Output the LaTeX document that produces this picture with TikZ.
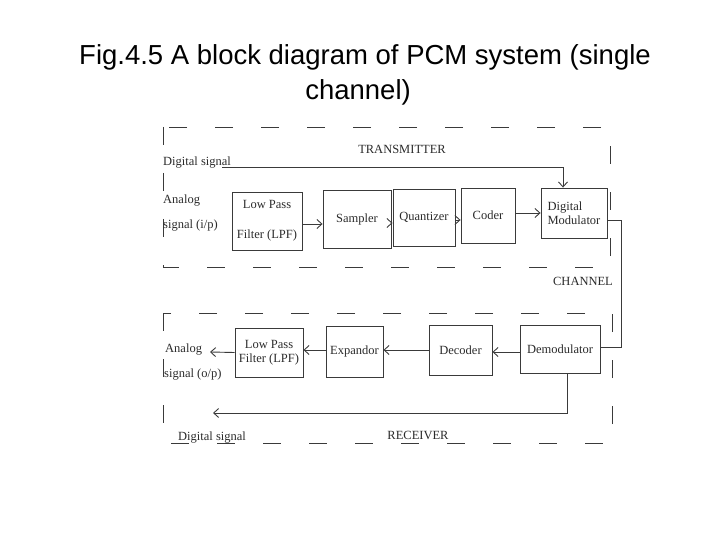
\documentclass[tikz,border=0pt]{standalone}
\usepackage{fontspec}
\setmainfont{Liberation Serif}
\newfontfamily\titlefont{Liberation Sans}
\usetikzlibrary{arrows.meta,positioning,calc}
\definecolor{ink}{HTML}{3A3A3A}
\definecolor{txt}{HTML}{2A2A2A}
\begin{document}
\begin{tikzpicture}[x=1pt,y=-1pt,
  blk/.style={draw=ink,line width=0.9pt,inner sep=1pt,font=\fontsize{12.5}{14}\selectfont,text=txt,align=center},
  lbl/.style={inner sep=0pt,font=\fontsize{12.5}{14}\selectfont,text=txt},
  conn/.style={draw=ink,line width=0.9pt},
  arr/.style={conn,-{Straight Barb[length=5pt,width=9pt]}},
  frame/.style={draw=ink,line width=0.9pt,dash pattern=on 18pt off 28pt}]
\useasboundingbox (0,0) rectangle (720,540);
% title
\node[inner sep=0pt,font=\titlefont\fontsize{27.5}{30}\selectfont,anchor=base] (t1) at (365,65) {Fig.4.5 A block diagram of PCM system (single};
\node[inner sep=0pt,font=\titlefont\fontsize{27.5}{30}\selectfont,anchor=base east] (t2) at (411,100) {channel)};
% frames
\draw[frame] (163,127) rectangle (610,267);
\draw[frame] (163,313) rectangle (612,443);
% transmitter labels
\node[lbl] (trx) at (402,149) {TRANSMITTER};
\node[lbl,anchor=west] (dsig1) at (163,163) {Digital signal};
\node[lbl,anchor=west] (an1) at (163,201) {Analog};
\node[lbl,anchor=west] (si1) at (163,226) {signal (i/p)};
% transmitter blocks
\node[blk,minimum width=70,minimum height=58] (lpf1) at (267,221) {Low Pass\\[16pt]Filter (LPF)};
\node[blk,minimum width=68,minimum height=58] (samp) at (357,219) {Sampler};
\node[blk,minimum width=62,minimum height=57] (quan) at (424,217.5) {Quantizer};
\node[blk,minimum width=54,minimum height=55] (code) at (488,215.5) {Coder};
\node[blk,minimum width=66,minimum height=50,align=left] (dmod) at (574,213) {Digital\\Modulator};
% channel
\node[lbl] (chan) at (583,281) {CHANNEL};
% receiver labels
\node[lbl] (rcx) at (418,435) {RECEIVER};
\node[lbl,anchor=west] (an2) at (165,350) {Analog};
\node[lbl,anchor=west] (so2) at (164,375) {signal (o/p)};
\node[lbl,anchor=west] (dsig2) at (178,438) {Digital signal};
% receiver blocks
\node[blk,minimum width=68,minimum height=49] (lpf2) at (269,352.5) {Low Pass\\Filter (LPF)};
\node[blk,minimum width=57,minimum height=51] (expd) at (354.5,351.5) {Expandor};
\node[blk,minimum width=63,minimum height=50] (deco) at (460.5,350) {Decoder};
\node[blk,minimum width=80,minimum height=48] (demo) at (560,349) {Demodulator};
% coordinates
\coordinate (dsstart) at (222,167);
\coordinate (aout) at (210,352);
\coordinate (dout) at (213,413);
\coordinate (chx) at (621,0);
% transmitter connectors
\draw[arr] (dsstart) -| ([xshift=-11]dmod.north);
\draw[arr] ([yshift=-3]lpf1.east) -- ([yshift=-3]lpf1.east -| samp.west);
\draw[arr] ([yshift=-4]samp.east) -- ([yshift=-4]samp.east -| quan.west);
\draw[arr] ([yshift=-2.5]quan.east) -- ([yshift=-2.5]quan.east -| code.west);
\draw[arr] ([yshift=2.5]code.east) -- ([yshift=2.5]code.east -| dmod.west);
% channel connector
\draw[conn] ([yshift=-7]dmod.east) -- ([yshift=-7]dmod.east -| chx) |- ([yshift=2]demo.east);
% receiver connectors
\draw[arr] ([yshift=-3]demo.west) -- ([yshift=-3]demo.west -| deco.east);
\draw[arr] (deco.west) -- (deco.west -| expd.east);
\draw[arr] ([yshift=1.5]expd.west) -- ([yshift=1.5]expd.west -| lpf2.east);
\draw[arr] (lpf2.west) -- (aout);
\draw[arr] ([xshift=7]demo.south) |- (dout);
\end{tikzpicture}
\end{document}
